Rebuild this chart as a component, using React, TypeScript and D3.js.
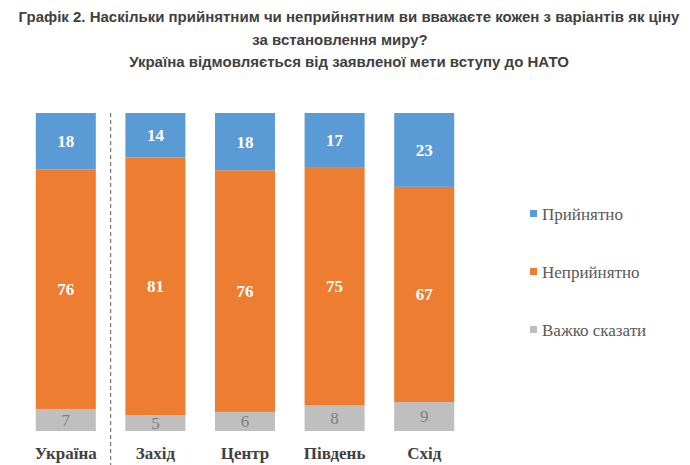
import React from "react";
import * as d3 from "d3";

const categories = ["Україна", "Захід", "Центр", "Південь", "Схід"];
const acceptable = [18, 14, 18, 17, 23];
const unacceptable = [76, 81, 76, 75, 67];
const hardToSay = [7, 5, 6, 8, 9];
const seriesNames = ["Прийнятно", "Неприйнятно", "Важко сказати"];
const seriesColors = ["#5B9BD5", "#ED7D31", "#BFBFBF"];
const titleLines = [
  "Графік 2. Наскільки прийнятним чи неприйнятним ви вважаєте кожен з варіантів як ціну",
  "за встановлення миру?",
  "Україна відмовляється від заявленої мети вступу до НАТО",
];

const W = 690;
const H = 465;
const SERIF = "Liberation Serif, Times New Roman, serif";
const SANS = "Liberation Sans, Arial, sans-serif";

export default function App() {
  const rows = categories.map((c, i) => ({
    cat: c,
    a: acceptable[i],
    u: unacceptable[i],
    h: hardToSay[i],
  }));
  const keys = ["h", "u", "a"];
  const stack = d3.stack<any>().keys(keys).offset(d3.stackOffsetExpand);
  const stacked = stack(rows);

  const x = d3
    .scaleBand()
    .domain(categories)
    .range([21, 469])
    .paddingInner(0.33)
    .paddingOuter(0.165);
  const y = d3.scaleLinear().domain([0, 1]).range([431, 113]);

  const colorFor: Record<string, string> = {
    a: seriesColors[0],
    u: seriesColors[1],
    h: seriesColors[2],
  };
  const labelColor: Record<string, string> = { a: "#ffffff", u: "#ffffff", h: "#7f7f7f" };
  const labelWeight: Record<string, string> = { a: "bold", u: "bold", h: "normal" };

  const dividerX = (x(categories[0]) as number) + x.bandwidth() + (x.step() - x.bandwidth()) / 2;

  const legendY = [214, 272, 330];

  return (
    <svg
      width={W}
      height={H}
      style={{ position: "absolute", left: 0, top: 0, background: "#fff" }}
    >
      <g style={{ fontFamily: SANS, fontWeight: "bold", fontSize: "15px" }} fill="#404040">
        <text x={349} y={22} textAnchor="middle">{titleLines[0]}</text>
        <text x={340} y={45} textAnchor="middle">{titleLines[1]}</text>
        <text x={349} y={67} textAnchor="middle">{titleLines[2]}</text>
      </g>
      {stacked.map((layer) => (
        <g key={layer.key}>
          {layer.map((d, i) => {
            const x0 = x(categories[i]) as number;
            const y0 = y(d[1]);
            const y1 = y(d[0]);
            const val = (rows[i] as any)[layer.key];
            return (
              <g key={i}>
                <rect x={x0} y={y0} width={x.bandwidth()} height={y1 - y0} fill={colorFor[layer.key]} />
                <text
                  x={x0 + x.bandwidth() / 2}
                  y={(y0 + y1) / 2}
                  dy="0.35em"
                  textAnchor="middle"
                  style={{ fontFamily: SERIF, fontSize: "17px", fontWeight: labelWeight[layer.key] }}
                  fill={labelColor[layer.key]}
                >
                  {val}
                </text>
              </g>
            );
          })}
        </g>
      ))}
      <line x1={dividerX} x2={dividerX} y1={113} y2={465} stroke="#7f7f7f" strokeWidth={1.3} strokeDasharray="4,3" />
      {categories.map((c) => (
        <text
          key={c}
          x={(x(c) as number) + x.bandwidth() / 2}
          y={459}
          textAnchor="middle"
          style={{ fontFamily: SERIF, fontSize: "17px", fontWeight: "bold" }}
          fill="#404040"
        >
          {c}
        </text>
      ))}
      {seriesNames.map((n, i) => (
        <g key={n}>
          <rect x={530} y={legendY[i] - 4} width={7} height={7} fill={seriesColors[i]} />
          <text
            x={542}
            y={legendY[i]}
            dy="0.35em"
            style={{ fontFamily: SERIF, fontSize: "17px" }}
            fill="#595959"
          >
            {n}
          </text>
        </g>
      ))}
    </svg>
  );
}
